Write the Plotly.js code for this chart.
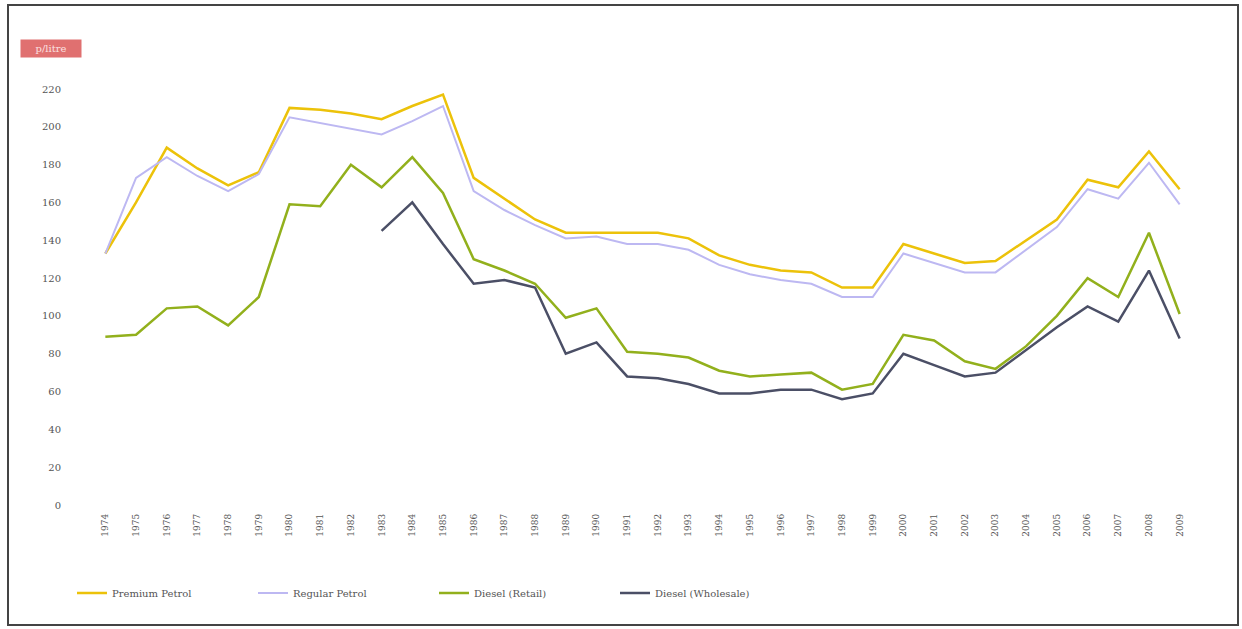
<!DOCTYPE html>
<html><head><meta charset="utf-8">
<script src="https://cdn.plot.ly/plotly-3.0.1.min.js"></script>
<style>html,body{margin:0;padding:0;background:#fff;}#chart{width:1242px;height:629px;}</style>
</head><body><div id="chart"></div>
<script>
const years = ["1974","1975","1976","1977","1978","1979","1980","1981","1982","1983","1984","1985","1986","1987","1988","1989","1990","1991","1992","1993","1994","1995","1996","1997","1998","1999","2000","2001","2002","2003","2004","2005","2006","2007","2008","2009"];
const premiumPetrol = [133,160,189,178,169,176,210,209,207,204,211,217,173,162,151,144,144,144,144,141,132,127,124,123,115,115,138,133,128,129,140,151,172,168,187,167];
const regularPetrol = [133,173,184,174,166,175,205,202,199,196,203,211,166,156,148,141,142,138,138,135,127,122,119,117,110,110,133,128,123,123,135,147,167,162,181,159];
const dieselRetail = [89,90,104,105,95,110,159,158,180,168,184,165,130,124,117,99,104,81,80,78,71,68,69,70,61,64,90,87,76,72,84,100,120,110,144,101];
const dieselWholesale = [null,null,null,null,null,null,null,null,null,145,160,138,117,119,115,80,86,68,67,64,59,59,61,61,56,59,80,74,68,70,82,94,105,97,124,88];
const seriesNames = ["Premium Petrol","Regular Petrol","Diesel (Retail)","Diesel (Wholesale)"];
const yTicks = [0,20,40,60,80,100,120,140,160,180,200,220];

const colors = ["#ecc20a","#bdb8f2","#92b01c","#4b4f66"];
const vals = [premiumPetrol, regularPetrol, dieselRetail, dieselWholesale];
const traces = vals.map((v,i)=>({
  x: years, y: v, name: seriesNames[i], type:'scatter', mode:'lines',
  line:{color:colors[i], width: i===1?2:2.5}, connectgaps:false
}));

const L=90, R=47, T=89, B=124, W=1242, H=629;
const pw=W-L-R, ph=H-T-B;
const px = p => (p-L)/pw;
const py = p => (H-B-p)/ph;

const layout = {
  width:W, height:H,
  margin:{l:L,r:R,t:T,b:B},
  paper_bgcolor:'#fff', plot_bgcolor:'#fff',
  showlegend:true,
  legend:{orientation:'h', x:px(72), xanchor:'left', y:py(593), yanchor:'middle',
    font:{family:'DejaVu Serif, serif', size:10, color:'#555'}, entrywidth:136, entrywidthmode:'pixels', itemwidth:30},
  xaxis:{type:'category', range:[-0.5,35.5], tickvals:years, ticktext:years, tickangle:-90,
    showgrid:false, zeroline:false, showline:false, ticks:'',
    tickfont:{family:'DejaVu Serif, serif', size:9, color:'#555'}, ticklabelstandoff:6},
  yaxis:{range:[0,220], tickvals:yTicks, ticktext:yTicks.map(String),
    showgrid:false, zeroline:false, showline:false, ticks:'',
    tickfont:{family:'DejaVu Serif, serif', size:10, color:'#555'}, ticklabelstandoff:28},
  shapes:[{type:'rect', xref:'paper', yref:'paper', x0:px(8), x1:px(1238), y0:py(625), y1:py(5),
    line:{color:'#444', width:2}, fillcolor:'rgba(0,0,0,0)'}],
  annotations:[{xref:'paper', yref:'paper', x:px(20), y:py(48), xanchor:'left', yanchor:'middle',
    text:'p/litre', showarrow:false, bgcolor:'#e07070', font:{family:'DejaVu Serif, serif', size:10, color:'#fbe0e0'},
    borderpad:3, width:54}]
};
Plotly.newPlot('chart', traces, layout, {displayModeBar:false, staticPlot:true});
</script></body></html>
